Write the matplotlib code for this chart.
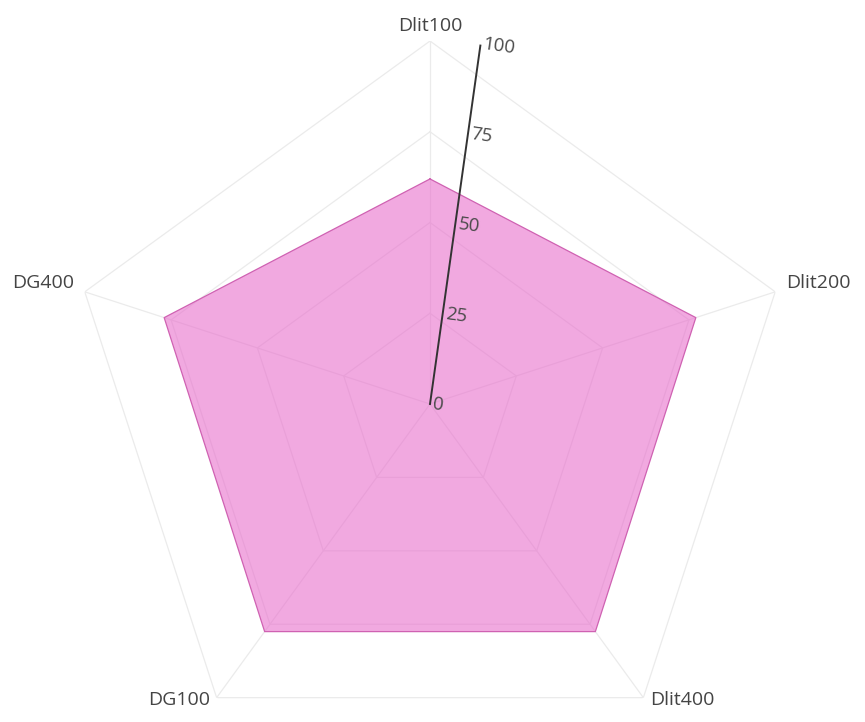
import numpy as np
import matplotlib
matplotlib.use("Agg")
import matplotlib.pyplot as plt

categories = ["Dlit100", "Dlit200", "Dlit400", "DG100", "DG400"]
values = [62, 77, 77.5, 77.5, 77]
radial_ticks = [0, 25, 50, 75, 100]
radial_tick_labels = ["0", "25", "50", "75", "100"]
r_max = 100

plt.rcParams['font.family'] = ['Open Sans', 'DejaVu Sans']

fig = plt.figure(figsize=(8.65, 7.22), dpi=100)
ax = fig.add_axes([67 / 865, -45 / 722, 726 / 865, 726 / 722], projection='polar')
ax.set_theta_offset(np.pi / 2)
ax.set_theta_direction(-1)
ax.set_ylim(0, r_max)
ax.set_xticks([])
ax.set_yticks([])
ax.grid(False)
ax.spines['polar'].set_visible(False)
ax.patch.set_alpha(0)

n = len(categories)
theta = np.linspace(0, 2 * np.pi, n, endpoint=False)
theta_c = np.append(theta, theta[0])

# polygon grid
for rv in radial_ticks[1:]:
    ax.plot(theta_c, [rv] * (n + 1), color='#ebebeb', lw=0.9, zorder=1)
for th in theta:
    ax.plot([th, th], [0, r_max], color='#ebebeb', lw=0.9, zorder=1)

# data
vals_c = np.append(values, values[0])
ax.fill(theta_c, vals_c, color='#e86bcb', alpha=0.58, lw=0, zorder=2)
ax.plot(theta_c, vals_c, color='#cf62b2', lw=0.9, zorder=3)

# radial axis tilted
ax_angle = np.deg2rad(8)
ax.plot([ax_angle, ax_angle], [0, r_max], color='#333333', lw=1.4, zorder=4)
for rv, lab in zip(radial_ticks, radial_tick_labels):
    ax.annotate(lab, xy=(ax_angle, rv), xytext=(2, 0), textcoords='offset points',
                ha='left', va='center', rotation=-8, rotation_mode='anchor',
                fontsize=13.5, color='#4a4a4a', zorder=5)

# category labels
label_specs = {
    "Dlit100": dict(ha='center', va='bottom', off=(0, 4)),
    "Dlit200": dict(ha='left', va='center', off=(8, 6)),
    "Dlit400": dict(ha='left', va='center', off=(5, -2)),
    "DG100": dict(ha='right', va='center', off=(-5, -2)),
    "DG400": dict(ha='right', va='center', off=(-8, 6)),
}
for th, cat in zip(theta, categories):
    s = label_specs[cat]
    ax.annotate(cat, xy=(th, r_max), xytext=s['off'], textcoords='offset points',
                ha=s['ha'], va=s['va'], fontsize=14, color='#444444',
                annotation_clip=False)

fig.savefig("out.png", dpi=100)
